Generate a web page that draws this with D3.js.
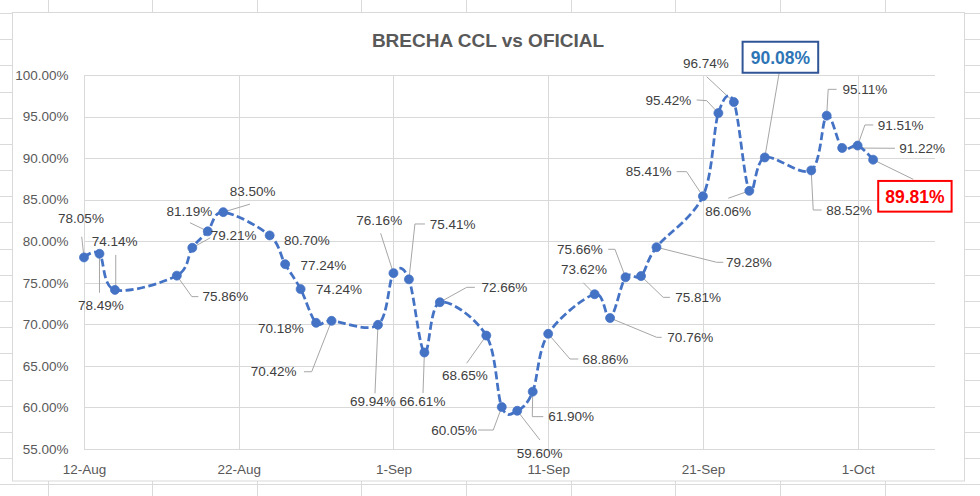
<!DOCTYPE html>
<html><head><meta charset="utf-8">
<script src="https://cdn.jsdelivr.net/npm/d3@7"></script>
<style>
body{margin:0;background:#fff}
svg{display:block}
text{font-family:"Liberation Sans",Arial,sans-serif}
</style>
</head><body>
<svg id="c" width="980" height="496"></svg>
<script>
// ---------------- DATA ----------------
const title = "BRECHA CCL vs OFICIAL";
const dates = [
  "2020-08-12","2020-08-13","2020-08-14","2020-08-18","2020-08-19","2020-08-20","2020-08-21",
  "2020-08-24","2020-08-25","2020-08-26","2020-08-27","2020-08-28","2020-08-31",
  "2020-09-01","2020-09-02","2020-09-03","2020-09-04","2020-09-07","2020-09-08","2020-09-09",
  "2020-09-10","2020-09-11","2020-09-14","2020-09-15","2020-09-16","2020-09-17","2020-09-18",
  "2020-09-21","2020-09-22","2020-09-23","2020-09-24","2020-09-25","2020-09-28","2020-09-29",
  "2020-09-30","2020-10-01","2020-10-02"
];
const brecha = [
  78.05,78.49,74.14,75.86,79.21,81.19,83.50,
  80.70,77.24,74.24,70.18,70.42,69.94,
  76.16,75.41,66.61,72.66,68.65,60.05,59.60,
  61.90,68.86,73.62,70.76,75.66,75.81,79.28,
  85.41,95.42,96.74,86.06,90.08,88.52,95.11,
  91.22,91.51,89.81
];
const yTicks = [55,60,65,70,75,80,85,90,95,100];
const xTickDates = ["2020-08-12","2020-08-22","2020-09-01","2020-09-11","2020-09-21","2020-10-01"];
const xTickLabels = ["12-Aug","22-Aug","1-Sep","11-Sep","21-Sep","1-Oct"];
const xDomain = ["2020-08-12","2020-10-06"];

// ---------------- LAYOUT (label offsets & leader lines, px relative to the point) ----------------
const labelLayout = [
  [-3,-39,[[-2.3,-20.7],[0,0]]],
  [1.5,52,[[0,39],[0,0]]],
  [-0.4,-49,[[0.8,-35],[0.8,-3],[0,0]]],
  [48.5,21,[[21.5,21],[15,21],[0,0]]],
  [41.4,-12.8,[[18,-10],[0,0]]],
  [-18.3,-19.6,[[-17.8,-8.6],[0,0]]],
  [29.4,-21.1,[[26.7,-8],[0,0]]],
  [37.3,4.6,null],
  [38.3,0.8,null],
  [38.4,0,null],
  [-35.1,5.5,null],
  [-57.9,50.9,[[-27.6,50.9],[-19.9,50.9],[0,0]]],
  [-5.2,76.9,[[-3,68.5],[0,0]]],
  [-14.2,-52.4,[[-12.8,-39.8],[0,0]]],
  [43.6,-55.4,[[16,-55.4],[6,-55.4],[0,0]]],
  [-1.9,49.2,[[-1.4,40.5],[0,0]]],
  [64.6,-14.9,[[35,-14.9],[26.8,-14.9],[0,0]]],
  [-21.3,39.4,[[-19.6,27.7],[0,0]]],
  [-47.6,23,[[-23.8,23],[-8.5,23],[0,0]]],
  [22.4,42.5,[[22.7,29.2],[0,0]]],
  [38.5,24.3,[[10.6,25],[-0.4,25],[0,0]]],
  [57.3,25.2,[[30.1,25.2],[21.8,25.2],[0,0]]],
  [-10.6,-24.9,[[-11.3,-11.5],[0,0]]],
  [80.2,19.3,[[51.6,19.3],[46.6,19.3],[0,0]]],
  [-45.6,-28,[[-17.3,-28],[-10.6,-28],[0,0]]],
  [57.2,21.3,[[28.9,21.3],[22.2,21.3],[0,0]]],
  [92.3,15.1,[[66.8,15.1],[60.2,15.1],[0,0]]],
  [-54.2,-24.6,[[-26.3,-24.6],[-16.3,-24.6],[0,0]]],
  [-50.1,-13.1,[[-21.7,-13.1],[-11.7,-12.4],[0,0]]],
  [-27.9,-38.8,[[-27.2,-25.4],[0,0]]],
  [-21.1,20.8,[[-21.1,7.4],[0,0]]],
  [15.6,-100.2,[[14.4,-84.7],[0,0]]],
  [38,39.6,[[10.4,39.6],[2,39.6],[0,0]]],
  [38.2,-26.3,[[9.9,-26.3],[1.5,-26.3],[0,0]]],
  [80,0.3,[[52.8,0.3],[0,0]]],
  [43.1,-20.6,[[15.6,-20.6],[7.3,-20.6],[0,0]]],
  [41.8,36.6,[[40.1,19.6],[0,0]]]
];
// highlighted (boxed) labels: index -> style
const boxed = {
  31: {w:75.6, h:31, stroke:"#2F5597", fill:"#2E75B6"},
  36: {w:73.4, h:30.7, stroke:"#FF0000", fill:"#FF0000"}
};

// ---------------- DRAW ----------------
const svg = d3.select("#c");
const W = 980, H = 496;
const parse = d3.utcParse("%Y-%m-%d");
const data = dates.map((d,i)=>({date:parse(d), v:brecha[i], i}));

// spreadsheet grid behind the chart
const sheet = svg.append("g").attr("stroke","#dadada").attr("stroke-width",1);
for (let k=0;k<10;k++){ const gx = Math.round(47.7+104.6*k)+0.5;
  sheet.append("line").attr("x1",gx).attr("x2",gx).attr("y1",0).attr("y2",H); }
for (let k=-1;k<19;k++){ const gy = Math.round(39.3+26.17*k)+0.5;
  sheet.append("line").attr("x1",0).attr("x2",W).attr("y1",gy).attr("y2",gy); }

// chart area
svg.append("rect").attr("x",12.5).attr("y",12.5).attr("width",952).attr("height",468.5)
  .attr("fill","#fff").attr("stroke","#d9d9d9").attr("stroke-width",1);

const x = d3.scaleUtc().domain(xDomain.map(parse)).range([84,935]);
const y = d3.scaleLinear().domain([55,100]).range([449,75]);

// title
svg.append("text").attr("x",488).attr("y",46.7).attr("text-anchor","middle")
  .attr("font-size",19).attr("font-weight","bold").attr("fill","#595959").text(title);

// gridlines
const grid = svg.append("g").attr("stroke","#d9d9d9").attr("stroke-width",1).attr("shape-rendering","crispEdges");
grid.selectAll(".hy").data(yTicks).join("line")
  .attr("x1",x.range()[0]).attr("x2",x.range()[1])
  .attr("y1",d=>Math.round(y(d))+0.5).attr("y2",d=>Math.round(y(d))+0.5);
grid.selectAll(".vx").data(xTickDates.map(parse)).join("line")
  .attr("y1",y.range()[0]).attr("y2",y.range()[1])
  .attr("x1",d=>Math.round(x(d))+0.5).attr("x2",d=>Math.round(x(d))+0.5);

// axes (labels only)
const yAxis = svg.append("g").attr("transform",`translate(${x.range()[0]},0)`)
  .call(d3.axisLeft(y).tickValues(yTicks).tickFormat(d=>d.toFixed(2)+"%").tickSize(0).tickPadding(15.5));
const xAxis = svg.append("g").attr("transform",`translate(0,${y.range()[0]})`)
  .call(d3.axisBottom(x).tickValues(xTickDates.map(parse)).tickFormat((d,i)=>xTickLabels[i]).tickSize(0).tickPadding(15));
[yAxis,xAxis].forEach(a=>{
  a.select(".domain").remove();
  a.selectAll("text").attr("font-size",13.5).attr("fill","#595959")
    .attr("font-family","'Liberation Sans',Arial,sans-serif");
});

// leader lines
const px = d=>x(d.date), py = d=>y(d.v);
const leaders = svg.append("g").attr("fill","none").attr("stroke","#a6a6a6").attr("stroke-width",1);
data.forEach(d=>{
  const L = labelLayout[d.i][2];
  if(!L) return;
  leaders.append("polyline")
    .attr("points", L.map(p=>[px(d)+p[0], py(d)+p[1]].join(",")).join(" "));
});

// line
const line = d3.line().x(px).y(py).curve(d3.curveCardinal.tension(0));
svg.append("path").datum(data).attr("d",line)
  .attr("fill","none").attr("stroke","#4472C4").attr("stroke-width",2.75)
  .attr("stroke-dasharray","8,3.5");

// markers
svg.append("g").selectAll("circle").data(data).join("circle")
  .attr("cx",px).attr("cy",py).attr("r",4.5)
  .attr("fill","#4472C4").attr("stroke","#4472C4").attr("stroke-width",0.75);

// labels
const labels = svg.append("g");
data.forEach(d=>{
  const [dx,dy] = labelLayout[d.i];
  const lx = px(d)+dx, ly = py(d)+dy;
  const txt = d.v.toFixed(2)+"%";
  const b = boxed[d.i];
  if (b){
    labels.append("rect").attr("x",lx-b.w/2).attr("y",ly-b.h/2).attr("width",b.w).attr("height",b.h)
      .attr("fill","#fff").attr("stroke",b.stroke).attr("stroke-width",2);
    labels.append("text").attr("x",lx).attr("y",ly).attr("dy","0.36em").attr("text-anchor","middle")
      .attr("font-size",17.5).attr("font-weight","bold").attr("fill",b.fill).text(txt);
  } else {
    labels.append("text").attr("x",lx).attr("y",ly).attr("dy","0.35em").attr("text-anchor","middle")
      .attr("font-size",13.5).attr("fill","#404040").text(txt);
  }
});
</script>
</body></html>
